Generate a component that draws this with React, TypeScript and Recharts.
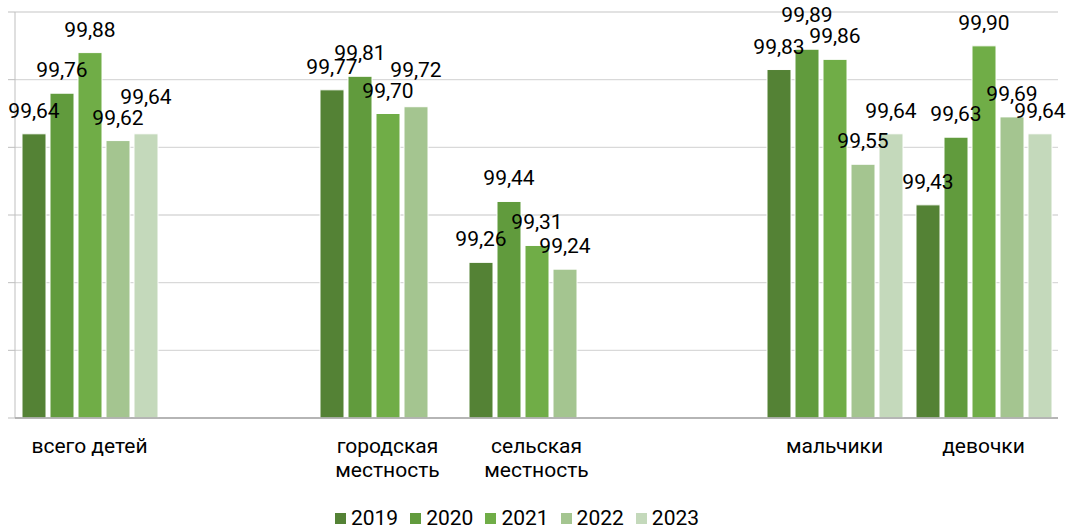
import React from 'react';
import { BarChart, Bar, XAxis, YAxis, CartesianGrid, Legend, LabelList } from 'recharts';

const categories = ['всего детей', '', 'городская\nместность', 'сельская\nместность', '', 'мальчики', 'девочки'];
const years = ['2019', '2020', '2021', '2022', '2023'];
const v2019 = [99.64, null, 99.77, 99.26, null, 99.83, 99.43];
const v2020 = [99.76, null, 99.81, 99.44, null, 99.89, 99.63];
const v2021 = [99.88, null, 99.70, 99.31, null, 99.86, 99.90];
const v2022 = [99.62, null, 99.72, 99.24, null, 99.55, 99.69];
const v2023 = [99.64, null, null, null, null, 99.64, 99.64];
const yTicks = [98.8, 99.0, 99.2, 99.4, 99.6, 99.8, 100.0];
const Y_MIN = 98.8;
const Y_MAX = 100;
const colors = ['#548235', '#619b3d', '#70ad47', '#a4c590', '#c4d9bb'];

const series = [v2019, v2020, v2021, v2022, v2023];
const data = categories.map((c, i) => {
  const row: any = { name: c, idx: i };
  years.forEach((y, k) => { row[y] = series[k][i]; });
  return row;
});

const FONT = 'Roboto, sans-serif';
const LABEL_FS = 21;
const CAP = 15;

const CatTick = (props: any) => {
  const { x, y, payload } = props;
  const lines = String(payload.value).split('\n');
  return (
    <text x={x} y={y} textAnchor="middle" fontSize={21} fontFamily={FONT} fill="#000">
      {lines.map((l, i) => (
        <tspan key={i} x={x} dy={i === 0 ? 35 : 24}>{l}</tspan>
      ))}
    </text>
  );
};

const fmt = (v: any) => (v === null || v === undefined ? '' : Number(v).toFixed(2).replace('.', ','));

// Data label that steps up above an overlapping neighbour label when its bar is taller
const SmartLabel = (props: any) => {
  const { x, y, width, height, value, s } = props;
  const row = value && typeof value === 'object' ? value.row : null;
  const v = row ? row[years[s]] : value;
  if (v === null || v === undefined || typeof v === 'object') return null;
  const index = row ? row.idx : props.index;
  const k = Number(height) / (Number(v) - Y_MIN);
  let base = Number(y) - 16;
  [s - 1, s + 1].forEach((n) => {
    if (n < 0 || n >= series.length) return;
    const nv = series[n][index];
    if (nv === null || nv === undefined) return;
    const nBase = Number(y) + (v - nv) * k - 16;
    if (Math.abs(base - nBase) < CAP - 2 && v > nv) {
      base = Math.min(base, nBase - CAP - 6);
    }
  });
  return (
    <text x={Number(x) + Number(width) / 2} y={base} textAnchor="middle" fontSize={LABEL_FS} fontFamily={FONT} fill="#000">
      {fmt(v)}
    </text>
  );
};

const LegendContent = () => (
  <div style={{ display: 'flex', justifyContent: 'center', alignItems: 'center', height: 20, paddingRight: 24, fontFamily: FONT, fontSize: 21, lineHeight: '20px', color: '#000' }}>
    {years.map((y, i) => (
      <div key={y} style={{ display: 'flex', alignItems: 'center', marginRight: i < years.length - 1 ? 12 : 0 }}>
        <div style={{ width: 11, height: 11, background: colors[i], marginRight: 5 }} />
        <span>{y}</span>
      </div>
    ))}
  </div>
);

export default function App() {
  return (
    <div style={{ position: 'absolute', left: 0, top: 0, width: 1070, height: 528, background: '#fff' }}>
      <BarChart
        width={1070}
        height={528}
        data={data}
        margin={{ top: 12, right: 12, left: 0, bottom: 0 }}
        barCategoryGap={7}
        barGap={4}
      >
        <CartesianGrid vertical={false} stroke="#d9d9d9" strokeWidth={1.3} />
        <YAxis
          width={15}
          domain={[Y_MIN, Y_MAX]}
          ticks={yTicks}
          allowDataOverflow
          tickSize={7}
          tickLine={{ stroke: '#bfbfbf' }}
          axisLine={{ stroke: '#bfbfbf' }}
          tickFormatter={() => ''}
        />
        <XAxis
          dataKey="name"
          height={90}
          tickLine={false}
          tickSize={0}
          tickMargin={0}
          interval={0}
          axisLine={{ stroke: '#a6a6a6', strokeWidth: 1.3 }}
          tick={<CatTick />}
        />
        <Legend verticalAlign="bottom" content={<LegendContent />} />
        {years.map((y, i) => (
          <Bar key={y} dataKey={y} fill={colors[i]} stroke="#ffffff" strokeWidth={1} isAnimationActive={false}>
            <LabelList
              valueAccessor={(entry: any) => (entry && entry.payload ? { row: entry.payload } : entry?.value)}
              content={(p: any) => <SmartLabel {...p} s={i} />}
            />
          </Bar>
        ))}
      </BarChart>
    </div>
  );
}
